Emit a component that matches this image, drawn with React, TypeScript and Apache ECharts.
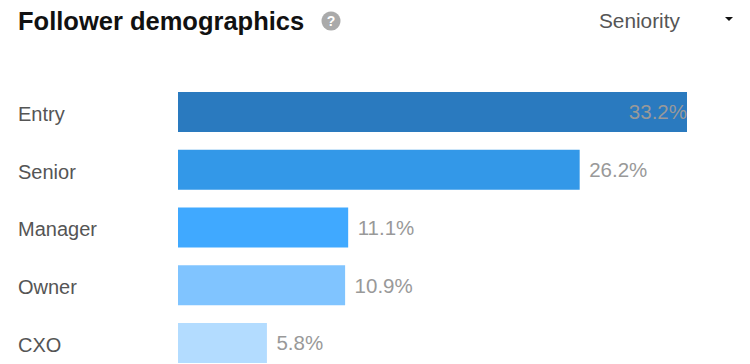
import React, { useEffect, useRef } from "react";
import * as echarts from "echarts";

const categories = ["Entry", "Senior", "Manager", "Owner", "CXO"];
const shares = [33.2, 26.2, 11.1, 10.9, 5.8];
const barColors = ["#2a7abf", "#3398e8", "#40a9ff", "#80c4ff", "#b3dcff"];
const FONT = "'Liberation Sans', Arial, sans-serif";

echarts.graphic.registerShape(
  "caretDown",
  echarts.graphic.extendPath("M0 0L8 0L4 4Z", {})
);

export default function App() {
  const ref = useRef<HTMLDivElement>(null);
  useEffect(() => {
    document.body.style.margin = "0";
    const chart = echarts.init(ref.current!, undefined, { renderer: "svg" });
    chart.setOption({
      animation: false,
      backgroundColor: "#ffffff",
      grid: {
        left: 178,
        top: 83.1,
        width: 509,
        height: 288.75,
        containLabel: false,
        outerBoundsMode: "none",
      },
      xAxis: { type: "value", min: 0, max: 33.2, show: false },
      yAxis: {
        type: "category",
        inverse: true,
        data: categories,
        axisLine: { show: false },
        axisTick: { show: false },
        axisLabel: {
          align: "left",
          margin: 160,
          formatter: (name: string) => `{name|${name}}`,
          rich: {
            name: {
              color: "#555555",
              fontSize: 20,
              fontFamily: FONT,
              padding: [4, 0, 0, 0],
            },
          },
        },
      },
      series: [
        {
          type: "bar",
          barWidth: 40,
          silent: true,
          data: shares.map((value, i) => ({
            value,
            itemStyle: { color: barColors[i] },
            label:
              i === 0
                ? { position: "insideRight", distance: 0 }
                : { position: "right", distance: 9.5 },
          })),
          label: {
            show: true,
            color: "#999999",
            fontSize: 20.5,
            fontFamily: FONT,
            formatter: (p: any) => `${p.value.toFixed(1)}%`,
          },
        },
      ],
      graphic: [
        {
          type: "text",
          x: 18,
          y: 8,
          style: {
            text: "Follower demographics",
            fill: "#111111",
            font: `bold 25.5px ${FONT}`,
          },
        },
        { type: "circle", shape: { cx: 331, cy: 21, r: 9.5 }, style: { fill: "#aaaaaa" } },
        {
          type: "text",
          x: 331,
          y: 21,
          style: {
            text: "?",
            fill: "#ffffff",
            align: "center",
            verticalAlign: "middle",
            font: `bold 14px ${FONT}`,
          },
        },
        {
          type: "text",
          x: 599,
          y: 10,
          style: { text: "Seniority", fill: "#555555", font: `20.8px ${FONT}` },
        },
        { type: "caretDown", x: 725, y: 17, style: { fill: "#111111" } },
      ],
    });
    return () => chart.dispose();
  }, []);
  return <div ref={ref} style={{ width: 750, height: 364 }} />;
}
